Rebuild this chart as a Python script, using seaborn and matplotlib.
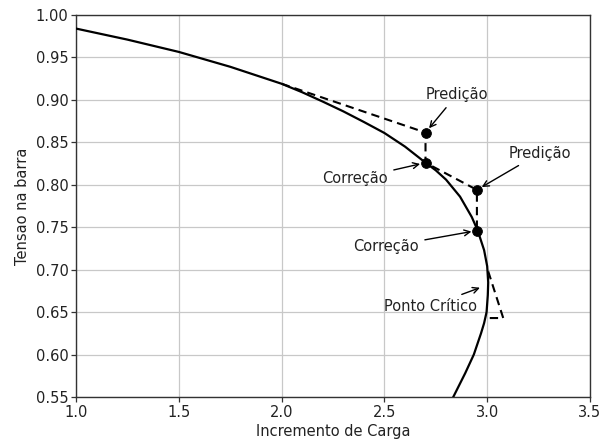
import matplotlib
matplotlib.use("Agg")
import matplotlib.pyplot as plt
import seaborn as sns
import pandas as pd

# PV (nose) curve: load increment vs bus voltage
curve_x = [1.00, 1.25, 1.50, 1.75, 2.00, 2.10, 2.20, 2.30, 2.40, 2.50, 2.60, 2.70,
           2.75, 2.80, 2.868, 2.925, 2.954, 2.985, 3.000, 3.005, 3.003, 2.997,
           2.985, 2.970, 2.935, 2.893, 2.835, 2.800]
curve_y = [0.984, 0.971, 0.9565, 0.939, 0.919, 0.909, 0.898, 0.8865, 0.874, 0.861, 0.845, 0.826,
           0.817, 0.806, 0.786, 0.762, 0.746, 0.723, 0.704, 0.685, 0.670, 0.650,
           0.637, 0.625, 0.600, 0.578, 0.550, 0.533]

# Continuation steps: predictor/corrector path
path_x = [2.00, 2.70, 2.70, 2.95, 2.95]
path_y = [0.919, 0.8615, 0.826, 0.794, 0.746]

# Tangent step at the critical point
crit_x = [3.005, 3.078, 2.997]
crit_y = [0.698, 0.643, 0.643]

# Marked points
pts_x = [2.70, 2.70, 2.95, 2.95]
pts_y = [0.8615, 0.826, 0.794, 0.746]

sns.set_theme(style="whitegrid")
plt.rcParams["font.family"] = ["DejaVu Sans"]

fig = plt.figure(figsize=(6.0, 4.41), dpi=100)
ax = fig.add_axes([0.1267, 0.0998, 0.8566, 0.8662])

curve = pd.DataFrame({"x": curve_x, "y": curve_y})
path = pd.DataFrame({"x": path_x, "y": path_y})
crit = pd.DataFrame({"x": crit_x, "y": crit_y})
pts = pd.DataFrame({"x": pts_x, "y": pts_y})

sns.lineplot(data=curve, x="x", y="y", sort=False, estimator=None, color="black",
             lw=1.6, ax=ax, zorder=3)
sns.lineplot(data=path, x="x", y="y", sort=False, estimator=None, color="black",
             lw=1.5, linestyle=(0, (4, 2.5)), ax=ax, zorder=3)
sns.lineplot(data=crit, x="x", y="y", sort=False, estimator=None, color="black",
             lw=1.5, linestyle=(0, (4, 2.5)), ax=ax, zorder=3)
sns.scatterplot(data=pts, x="x", y="y", color="black", s=50, edgecolor="black",
                ax=ax, zorder=4)

ax.set_xlim(1.0, 3.5)
ax.set_ylim(0.55, 1.00)
ax.set_xticks([1.0, 1.5, 2.0, 2.5, 3.0, 3.5])
ax.set_yticks([0.55, 0.60, 0.65, 0.70, 0.75, 0.80, 0.85, 0.90, 0.95, 1.00])
ax.set_xticklabels(["1.0", "1.5", "2.0", "2.5", "3.0", "3.5"])
ax.set_yticklabels([f"{v:.2f}" for v in ax.get_yticks()])

ax.grid(True, color="#c8c8c8", lw=0.9)
for s in ax.spines.values():
    s.set_color("#333333")
    s.set_linewidth(1.0)
ax.tick_params(axis="both", which="both", length=3.5, width=0.9, color="#333333",
               labelsize=10.5, labelcolor="#222222", direction="out", pad=2,
               left=True, bottom=True)

ax.set_xlabel("Incremento de Carga", fontsize=10.5, color="#222222", labelpad=3)
ax.set_ylabel("Tensao na barra", fontsize=10.5, color="#222222", labelpad=4)

arrow = dict(arrowstyle="->", color="black", lw=1.0, shrinkA=2, shrinkB=4)
fs = 10.5
ax.annotate("Predição", xy=(2.70, 0.8615), xytext=(2.852, 0.906), ha="center",
            va="center", fontsize=fs, color="#222222", arrowprops=arrow)
ax.annotate("Predição", xy=(2.95, 0.794), xytext=(3.254, 0.837), ha="center",
            va="center", fontsize=fs, color="#222222", arrowprops=arrow)
ax.annotate("Correção", xy=(2.70, 0.826), xytext=(2.357, 0.807), ha="center",
            va="center", fontsize=fs, color="#222222", arrowprops=arrow)
ax.annotate("Correção", xy=(2.95, 0.746), xytext=(2.508, 0.727), ha="center",
            va="center", fontsize=fs, color="#222222", arrowprops=arrow)
ax.annotate("Ponto Crítico", xy=(2.99, 0.681), xytext=(2.722, 0.657), ha="center",
            va="center", fontsize=fs, color="#222222", arrowprops=arrow)

fig.savefig("out.png", dpi=100)
